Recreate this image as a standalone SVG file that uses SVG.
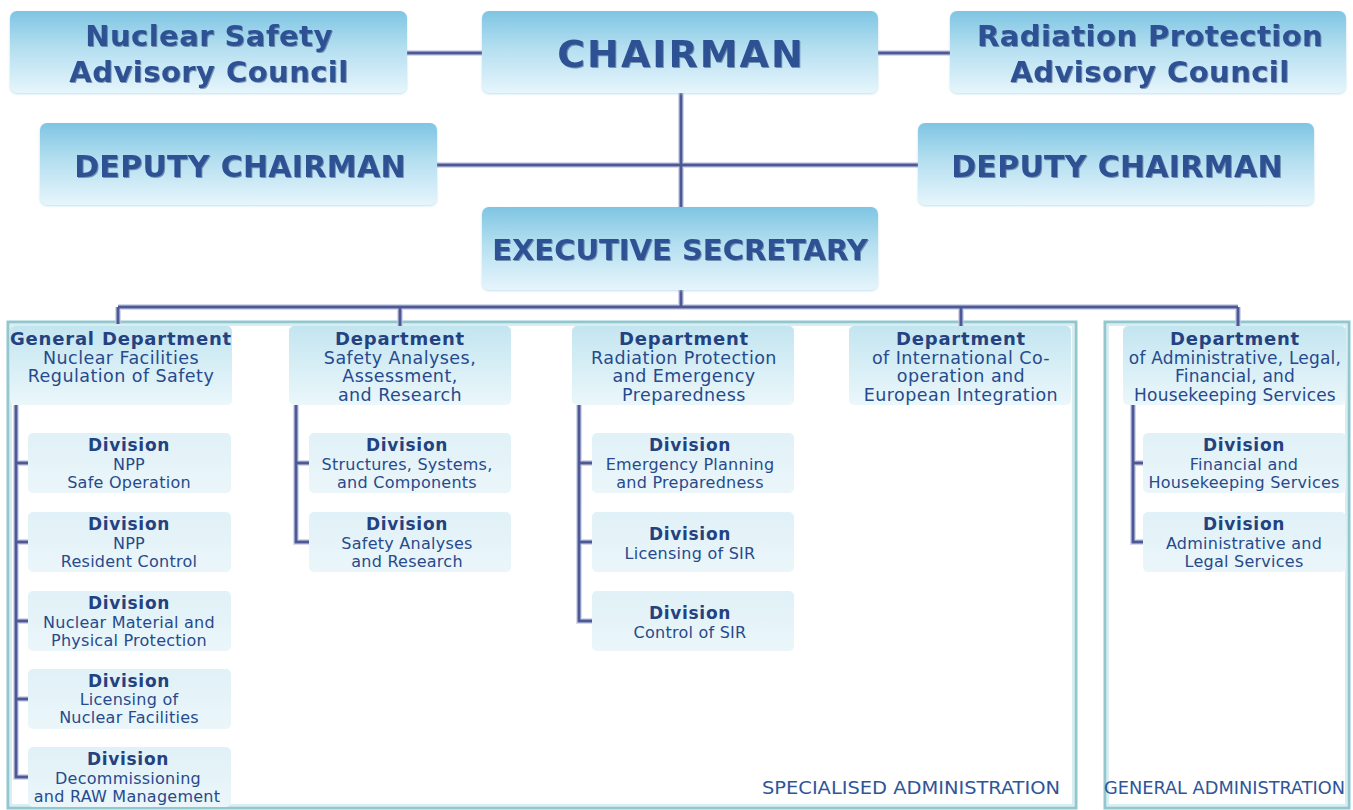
<svg xmlns="http://www.w3.org/2000/svg" width="1353" height="810" viewBox="0 0 1353 810">
  <defs>
    <linearGradient id="gTop" x1="0" y1="0" x2="0" y2="1">
      <stop offset="0" stop-color="#7fc5e3"/>
      <stop offset="0.45" stop-color="#b4dff0"/>
      <stop offset="1" stop-color="#e6f5fc"/>
    </linearGradient>
    <linearGradient id="gDept" x1="0" y1="0" x2="0" y2="1">
      <stop offset="0" stop-color="#c3e5f0"/>
      <stop offset="1" stop-color="#ebf7fb"/>
    </linearGradient>
    <linearGradient id="gDiv" x1="0" y1="0" x2="0" y2="1">
      <stop offset="0" stop-color="#e0f1f7"/>
      <stop offset="1" stop-color="#ebf6fa"/>
    </linearGradient>
    <filter id="soft" x="-5%" y="-10%" width="110%" height="125%">
      <feDropShadow dx="0" dy="1" stdDeviation="1.2" flood-color="#9ccbe0" flood-opacity="0.6"/>
    </filter>
    <filter id="emboss" x="-2%" y="-10%" width="104%" height="130%">
      <feDropShadow dx="1" dy="1" stdDeviation="0.6" flood-color="#1b2f66" flood-opacity="0.45"/>
    </filter>
  </defs>
  <style>
    .top { fill: url(#gTop); filter: url(#soft); }
    .dept { fill: url(#gDept); }
    .div { fill: url(#gDiv); }
    .title { font-family: "DejaVu Sans", Verdana, sans-serif; font-weight: bold; fill: #2e5194; text-anchor: middle; filter: url(#emboss); font-size: 29px; letter-spacing: 0.45px; }
    .big { font-size: 38px; letter-spacing: 2px; }
    .dep { font-size: 30px; letter-spacing: 0.3px; }
    .exec { letter-spacing: 0px; }
    .t { font-family: "DejaVu Sans", Verdana, sans-serif; fill: #264a8c; text-anchor: middle; font-size: 16px; letter-spacing: 0.25px; }
    .d { font-size: 17.5px; letter-spacing: 0.45px; }
    .d2 { font-size: 17px; letter-spacing: 0.2px; }
    .b { font-weight: bold; font-size: 17px; letter-spacing: 0.7px; fill: #23427f; }
    .bd { font-weight: bold; font-size: 18px; letter-spacing: 0.8px; fill: #23427f; }
    .conn { fill: none; stroke: #4d5996; stroke-width: 3; }
    .halo { fill: none; stroke: #c3c9e2; stroke-width: 6; opacity: 0.7; }
    .frame { fill: none; stroke: #92c7cf; stroke-width: 3; }
    .frameIn { fill: none; stroke: #d9eef1; stroke-width: 2; }
    .area { font-family: "DejaVu Sans Condensed", "DejaVu Sans", sans-serif; fill: #2f5597; font-size: 17px; }
  </style>

  <rect width="1353" height="810" fill="#ffffff"/>

  <!-- administration frames -->
  <g id="frames">
    <rect class="frame" x="8" y="322" width="1068" height="486"/>
    <rect class="frameIn" x="11" y="325" width="1062" height="480"/>
    <rect class="frame" x="1105" y="322" width="244" height="486"/>
    <rect class="frameIn" x="1108" y="325" width="238" height="480"/>
    <text class="area" x="1060" y="794" text-anchor="end" textLength="298" lengthAdjust="spacingAndGlyphs">SPECIALISED ADMINISTRATION</text>
    <text class="area" x="1104" y="794" textLength="241" lengthAdjust="spacingAndGlyphs">GENERAL ADMINISTRATION</text>
  </g>

  <!-- connectors -->
  <g id="connectors">
    <g class="halo">
      <path d="M407 53H482M878 53H950M681 93V307M437 165H918M118 307H1238M118 307V324M400 307V326M961 307V326M1238 307V326"/>
      <path d="M16 405V777H28M16 463H28M16 542H28M16 621H28M16 699H28"/>
      <path d="M296 405V542H309M296 463H309"/>
      <path d="M579 405V621H592M579 463H592M579 542H592"/>
      <path d="M1133 405V542H1143M1133 463H1143"/>
    </g>
    <g class="conn">
      <path d="M407 53H482M878 53H950M681 93V307M437 165H918M118 307H1238M118 307V324M400 307V326M961 307V326M1238 307V326"/>
      <path d="M16 405V777H28M16 463H28M16 542H28M16 621H28M16 699H28"/>
      <path d="M296 405V542H309M296 463H309"/>
      <path d="M579 405V621H592M579 463H592M579 542H592"/>
      <path d="M1133 405V542H1143M1133 463H1143"/>
    </g>
  </g>

  <!-- top level -->
  <g id="nsac">
    <rect class="top" x="10" y="11" width="397" height="82" rx="7"/>
    <text class="title" x="209" y="46">Nuclear Safety</text>
    <text class="title" x="209" y="82">Advisory Council</text>
  </g>
  <g id="chairman">
    <rect class="top" x="482" y="11" width="396" height="82" rx="7"/>
    <text class="title big" x="681" y="67">CHAIRMAN</text>
  </g>
  <g id="rpac">
    <rect class="top" x="950" y="11" width="396" height="82" rx="7"/>
    <text class="title" x="1150" y="46">Radiation Protection</text>
    <text class="title" x="1150" y="82">Advisory Council</text>
  </g>
  <g id="deputy-left">
    <rect class="top" x="40" y="123" width="397" height="82" rx="7"/>
    <text class="title dep" x="240" y="177">DEPUTY CHAIRMAN</text>
  </g>
  <g id="deputy-right">
    <rect class="top" x="918" y="123" width="396" height="82" rx="7"/>
    <text class="title dep" x="1117" y="177">DEPUTY CHAIRMAN</text>
  </g>
  <g id="executive-secretary">
    <rect class="top" x="482" y="207" width="396" height="83" rx="7"/>
    <text class="title exec" x="680" y="260">EXECUTIVE SECRETARY</text>
  </g>

  <!-- departments -->
  <g id="dept-nuclear-facilities">
    <rect class="dept" x="10" y="326" width="222" height="79" rx="5"/>
    <text class="t d"><tspan class="bd" x="121" y="345">General Department</tspan><tspan x="121" y="364">Nuclear Facilities</tspan><tspan x="121" y="382">Regulation of Safety</tspan></text>
  </g>
  <g id="dept-safety-analyses">
    <rect class="dept" x="289" y="326" width="222" height="79" rx="5"/>
    <text class="t d"><tspan class="bd" x="400" y="345">Department</tspan><tspan x="400" y="364">Safety Analyses,</tspan><tspan x="400" y="382">Assessment,</tspan><tspan x="400" y="401">and Research</tspan></text>
  </g>
  <g id="dept-radiation">
    <rect class="dept" x="572" y="326" width="222" height="79" rx="5"/>
    <text class="t d"><tspan class="bd" x="684" y="345">Department</tspan><tspan x="684" y="364">Radiation Protection</tspan><tspan x="684" y="382">and Emergency</tspan><tspan x="684" y="401">Preparedness</tspan></text>
  </g>
  <g id="dept-international">
    <rect class="dept" x="849" y="326" width="222" height="79" rx="5"/>
    <text class="t d"><tspan class="bd" x="961" y="345">Department</tspan><tspan x="961" y="364">of International Co-</tspan><tspan x="961" y="382">operation and</tspan><tspan x="961" y="401">European Integration</tspan></text>
  </g>
  <g id="dept-administrative">
    <rect class="dept" x="1123" y="326" width="223" height="79" rx="5"/>
    <text class="t d2"><tspan class="bd" x="1235" y="345">Department</tspan><tspan x="1235" y="364">of Administrative, Legal,</tspan><tspan x="1235" y="382">Financial, and</tspan><tspan x="1235" y="401">Housekeeping Services</tspan></text>
  </g>

  <!-- divisions: nuclear facilities -->
  <g id="div-npp-safe-operation">
    <rect class="div" x="28" y="433" width="203" height="60" rx="5"/>
    <text class="t"><tspan class="b" x="129" y="451">Division</tspan><tspan x="129" y="470">NPP</tspan><tspan x="129" y="488">Safe Operation</tspan></text>
  </g>
  <g id="div-npp-resident-control">
    <rect class="div" x="28" y="512" width="203" height="60" rx="5"/>
    <text class="t"><tspan class="b" x="129" y="530">Division</tspan><tspan x="129" y="549">NPP</tspan><tspan x="129" y="567">Resident Control</tspan></text>
  </g>
  <g id="div-nuclear-material">
    <rect class="div" x="28" y="591" width="203" height="60" rx="5"/>
    <text class="t"><tspan class="b" x="129" y="609">Division</tspan><tspan x="129" y="628">Nuclear Material and</tspan><tspan x="129" y="646">Physical Protection</tspan></text>
  </g>
  <g id="div-licensing-facilities">
    <rect class="div" x="28" y="669" width="203" height="60" rx="5"/>
    <text class="t"><tspan class="b" x="129" y="687">Division</tspan><tspan x="129" y="705">Licensing of</tspan><tspan x="129" y="723">Nuclear Facilities</tspan></text>
  </g>
  <g id="div-decommissioning">
    <rect class="div" x="28" y="747" width="203" height="60" rx="5"/>
    <text class="t"><tspan class="b" x="128" y="765">Division</tspan><tspan x="128" y="784">Decommissioning</tspan><tspan x="127" y="802">and RAW Management</tspan></text>
  </g>

  <!-- divisions: safety analyses -->
  <g id="div-structures">
    <rect class="div" x="309" y="433" width="202" height="60" rx="5"/>
    <text class="t"><tspan class="b" x="407" y="451">Division</tspan><tspan x="407" y="470">Structures, Systems,</tspan><tspan x="407" y="488">and Components</tspan></text>
  </g>
  <g id="div-safety-research">
    <rect class="div" x="309" y="512" width="202" height="60" rx="5"/>
    <text class="t"><tspan class="b" x="407" y="530">Division</tspan><tspan x="407" y="549">Safety Analyses</tspan><tspan x="407" y="567">and Research</tspan></text>
  </g>

  <!-- divisions: radiation protection -->
  <g id="div-emergency">
    <rect class="div" x="592" y="433" width="202" height="60" rx="5"/>
    <text class="t"><tspan class="b" x="690" y="451">Division</tspan><tspan x="690" y="470">Emergency Planning</tspan><tspan x="690" y="488">and Preparedness</tspan></text>
  </g>
  <g id="div-licensing-sir">
    <rect class="div" x="592" y="512" width="202" height="60" rx="5"/>
    <text class="t"><tspan class="b" x="690" y="540">Division</tspan><tspan x="690" y="559">Licensing of SIR</tspan></text>
  </g>
  <g id="div-control-sir">
    <rect class="div" x="592" y="591" width="202" height="60" rx="5"/>
    <text class="t"><tspan class="b" x="690" y="619">Division</tspan><tspan x="690" y="638">Control of SIR</tspan></text>
  </g>

  <!-- divisions: administrative -->
  <g id="div-financial">
    <rect class="div" x="1143" y="433" width="203" height="60" rx="5"/>
    <text class="t"><tspan class="b" x="1244" y="451">Division</tspan><tspan x="1244" y="470">Financial and</tspan><tspan x="1244" y="488">Housekeeping Services</tspan></text>
  </g>
  <g id="div-administrative-legal">
    <rect class="div" x="1143" y="512" width="203" height="60" rx="5"/>
    <text class="t"><tspan class="b" x="1244" y="530">Division</tspan><tspan x="1244" y="549">Administrative and</tspan><tspan x="1244" y="567">Legal Services</tspan></text>
  </g>
</svg>
